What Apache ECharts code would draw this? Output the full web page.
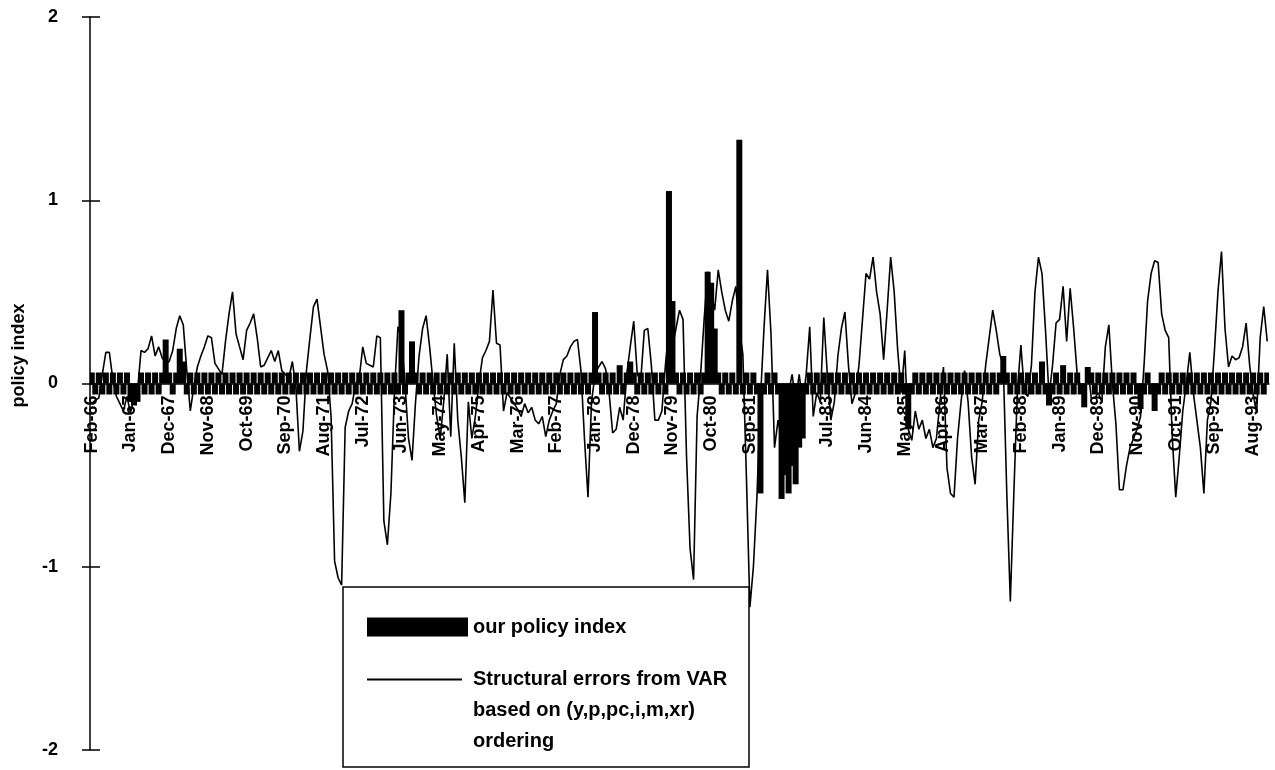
<!DOCTYPE html>
<html>
<head>
<meta charset="utf-8">
<script src="https://cdn.jsdelivr.net/npm/echarts@6/dist/echarts.min.js"></script>
<style>
html,body{margin:0;padding:0;background:#fff;}
#chart{width:1275px;height:770px;}
</style>
</head>
<body>
<div id="chart"></div>
<script>
// Monthly categories Feb-66 .. Dec-93 (335 months)
const monthNames = ['Jan','Feb','Mar','Apr','May','Jun','Jul','Aug','Sep','Oct','Nov','Dec'];
const startYear = 66, startMonth = 1, nMonths = 335;
const categories = [];
for (let k = 0; k < nMonths; k++) {
  const t = startMonth + k;
  categories.push(monthNames[t % 12] + '-' + (startYear + Math.floor(t / 12)));
}

// our policy index (bars)
const policyIndex = [
  .06,-.06,.06,-.06,.06,-.06,.06,-.06,.06,-.06,.06,-.1,
  -.12,-.1,.06,-.06,.06,-.06,.06,-.06,.06,.24,.06,-.06,
  .06,.19,.12,-.06,.06,-.06,.06,-.06,.06,-.06,.06,-.06,
  .06,-.06,.06,-.06,.06,-.06,.06,-.06,.06,-.06,.06,-.06,
  .06,-.06,.06,-.06,.06,-.06,.06,-.06,.06,-.06,.06,-.06,
  .06,-.06,.06,-.06,.06,-.06,.06,-.06,.06,-.06,.06,-.06,
  .06,-.06,.06,-.06,.06,-.06,.06,-.06,.06,-.06,.06,-.06,
  .06,-.06,.06,-.06,.40,-.06,.06,.23,.06,-.06,.06,-.06,
  .06,-.06,.06,-.06,.06,-.06,.06,-.06,.06,-.06,.06,-.06,
  .06,-.06,.06,-.06,.06,-.06,.06,-.06,.06,-.06,.06,-.06,
  .06,-.06,.06,-.06,.06,-.06,.06,-.06,.06,-.06,.06,-.06,
  .06,-.06,.06,-.06,.06,-.06,.06,-.06,.06,-.06,.06,.39,
  .06,-.06,.06,-.06,.06,-.06,.1,-.06,.06,.12,.06,-.06,
  .06,-.06,.06,-.06,.06,-.06,.06,-.06,1.05,.45,.06,-.06,
  .06,-.06,.06,-.06,.06,-.06,.06,.61,.55,.3,.06,-.06,
  .06,-.06,.06,-.06,1.33,-.06,.06,-.06,.06,-.06,-.6,-.06,
  .06,-.06,.06,-.06,-.63,-.5,-.6,-.45,-.55,-.35,-.3,-.06,
  .06,-.06,.06,-.06,.06,-.06,.06,-.06,.06,-.06,.06,-.06,
  .06,-.06,.06,-.06,.06,-.06,.06,-.06,.06,-.06,.06,-.06,
  .06,-.06,.06,-.06,-.25,-.06,.06,-.06,.06,-.06,.06,-.06,
  .06,-.06,.06,-.06,.06,-.06,.06,-.06,.06,-.06,.06,-.06,
  .06,-.06,.06,-.06,.06,-.06,.06,.15,.06,-.06,.06,-.06,
  .06,-.06,.06,-.06,.06,-.06,.12,-.06,-.12,-.06,.06,-.06,
  .1,-.06,.06,-.06,.06,-.06,-.13,.09,.06,-.06,.06,-.06,
  .06,-.06,.06,-.06,.06,-.06,.06,-.06,.06,-.06,-.14,-.06,
  .06,-.06,-.15,-.06,.06,-.06,.06,-.06,.06,-.06,.06,-.06,
  .06,-.06,.06,-.06,.06,-.06,.06,-.06,.06,-.06,.06,-.06,
  .06,-.06,.06,-.06,.06,-.06,.06,-.06,.06,-.06,.06
];

// Structural errors from VAR (line)
const structuralErrors = [
  -0.11,-0.09,-0.08,0.05,0.17,0.17,0.02,-0.07,-0.11,-0.15,-0.07,-0.16,
  -0.08,-0.04,0.18,0.17,0.19,0.26,0.15,0.2,0.14,0.11,0.12,0.18,
  0.3,0.37,0.32,0.07,-0.15,-0.02,0.09,0.15,0.2,0.26,0.25,0.11,
  0.08,0.05,0.23,0.38,0.5,0.27,0.2,0.13,0.29,0.33,0.38,0.25,
  0.09,0.1,0.14,0.18,0.12,0.18,0.07,0.05,0.03,0.12,-0.02,-0.37,
  -0.26,0.07,0.25,0.42,0.46,0.31,0.16,0.07,-0.18,-0.97,-1.06,-1.1,
  -0.24,-0.15,-0.11,0.0,0.03,0.2,0.11,0.1,0.09,0.26,0.25,-0.75,
  -0.88,-0.6,-0.05,0.31,0.25,0.0,-0.3,-0.42,-0.1,0.15,0.3,0.37,
  0.2,0.0,-0.18,-0.3,-0.1,0.16,-0.29,0.22,-0.2,-0.4,-0.65,-0.1,
  -0.3,-0.18,0.0,0.14,0.18,0.23,0.51,0.22,0.21,-0.15,-0.05,-0.08,
  -0.11,-0.14,-0.18,-0.11,-0.16,-0.13,-0.2,-0.22,-0.18,-0.29,-0.2,-0.15,
  -0.11,0.05,0.13,0.15,0.2,0.23,0.24,0.07,-0.3,-0.62,-0.1,0.05,
  0.09,0.12,0.08,-0.05,-0.27,-0.25,-0.13,-0.2,0.05,0.2,0.34,0.05,
  0.02,0.29,0.3,0.1,-0.2,-0.2,-0.15,0.1,0.3,0.2,0.3,0.4,
  0.35,-0.4,-0.9,-1.07,-0.18,0.05,0.35,0.61,0.5,0.4,0.62,0.5,
  0.4,0.34,0.45,0.53,0.3,0.16,-0.5,-1.22,-1.0,-0.62,-0.09,0.3,
  0.62,0.27,-0.35,-0.2,-0.3,-0.15,-0.05,0.05,-0.1,0.05,-0.1,0.05,
  0.31,-0.18,-0.05,-0.1,0.36,0.05,-0.2,-0.1,0.15,0.3,0.39,0.1,
  -0.11,-0.05,0.1,0.35,0.6,0.57,0.69,0.5,0.38,0.13,0.4,0.69,
  0.5,0.18,-0.05,0.18,-0.25,-0.31,-0.15,-0.25,-0.2,-0.3,-0.25,-0.35,
  -0.3,-0.1,0.09,-0.46,-0.6,-0.62,-0.3,-0.1,0.07,-0.1,-0.4,-0.55,
  -0.2,-0.1,0.1,0.25,0.4,0.29,0.16,0.1,-0.6,-1.19,-0.6,-0.04,
  0.21,-0.05,-0.07,0.1,0.5,0.69,0.6,0.29,-0.07,0.1,0.33,0.35,
  0.53,0.23,0.52,0.3,0.05,-0.02,-0.08,0.09,-0.08,-0.08,-0.05,-0.1,
  0.2,0.32,0.0,-0.22,-0.58,-0.58,-0.45,-0.35,-0.3,-0.25,-0.18,0.1,
  0.45,0.6,0.67,0.66,0.38,0.29,0.25,-0.29,-0.62,-0.4,-0.15,0.0,
  0.17,-0.05,-0.2,-0.35,-0.6,-0.2,-0.1,0.18,0.5,0.72,0.3,0.09,
  0.15,0.13,0.14,0.2,0.33,0.1,-0.06,-0.16,0.25,0.42,0.23
];

const yTicks = [-2, -1, 0, 1, 2];
const barName = 'our policy index';
const lineName = 'Structural errors from VAR based on (y,p,pc,i,m,xr) ordering';

const FONT = 'Liberation Sans, Arial, Helvetica, sans-serif';
const GRID_TOP = 17, GRID_BOTTOM = 20, H = 770;
const plotH = H - GRID_TOP - GRID_BOTTOM;
// shift the category axis from the plot bottom up to the zero level of the value axis
const zeroShift = -plotH * (0 - yTicks[0]) / (yTicks[yTicks.length - 1] - yTicks[0]);

const chart = echarts.init(document.getElementById('chart'), null, {renderer: 'canvas'});

chart.setOption({
  animation: false,
  backgroundColor: '#fff',
  grid: {left: 90, right: 6, top: GRID_TOP, bottom: GRID_BOTTOM, containLabel: false, outerBoundsMode: 'none'},
  xAxis: {
    type: 'category',
    data: categories,
    boundaryGap: true,
    position: 'bottom',
    offset: zeroShift,
    axisLine: {onZero: false, lineStyle: {color: '#000', width: 1.5}},
    axisTick: {show: false},
    axisLabel: {
      interval: 10,
      rotate: 90,
      margin: 12,
      color: '#000',
      fontFamily: FONT,
      fontWeight: 'bold',
      fontSize: 18
    },
    splitLine: {show: false}
  },
  yAxis: [{
    type: 'value',
    min: yTicks[0],
    max: yTicks[yTicks.length - 1],
    interval: 1,
    position: 'left',
    name: 'policy index',
    nameLocation: 'middle',
    nameGap: 62,
    nameRotate: 90,
    nameTextStyle: {color: '#000', fontFamily: FONT, fontWeight: 'bold', fontSize: 18, padding: [0, 0, 0, 56]},
    axisLine: {show: true, lineStyle: {color: '#000', width: 1.5}},
    axisTick: {show: true, length: 8, lineStyle: {color: '#000', width: 1.5}},
    axisLabel: {color: '#000', fontFamily: FONT, fontWeight: 'bold', fontSize: 18, margin: 32},
    splitLine: {show: false}
  }, {
    type: 'value',
    min: yTicks[0],
    max: yTicks[yTicks.length - 1],
    interval: 1,
    position: 'left',
    axisLine: {show: false},
    axisTick: {show: true, inside: true, length: 10, lineStyle: {color: '#000', width: 1.5}},
    axisLabel: {show: false},
    splitLine: {show: false}
  }],
  legend: [{
    data: [{name: barName, icon: 'rect'}],
    left: 362,
    top: 612,
    itemWidth: 101,
    itemHeight: 19,
    itemGap: 10,
    selectedMode: false,
    textStyle: {color: '#000', fontFamily: FONT, fontWeight: 'bold', fontSize: 20}
  }, {
    data: [{name: lineName, icon: 'rect'}],
    left: 362,
    top: 597,
    itemWidth: 95,
    itemHeight: 2,
    selectedMode: false,
    formatter: function () {
      return '\n\nStructural errors from VAR\nbased on (y,p,pc,i,m,xr)\nordering';
    },
    textStyle: {color: '#000', fontFamily: FONT, fontWeight: 'bold', fontSize: 20, lineHeight: 31, padding: [0, 0, 0, 6]}
  }],
  graphic: [{
    type: 'rect',
    z: 3,
    shape: {x: 343, y: 587, width: 406, height: 180},
    style: {fill: '#fff', stroke: '#000', lineWidth: 1.5}
  }],
  series: [{
    name: barName,
    type: 'bar',
    data: policyIndex,
    barWidth: 6,
    barGap: '-100%',
    itemStyle: {color: '#000'},
    z: 2
  }, {
    name: lineName,
    type: 'line',
    data: structuralErrors,
    symbol: 'none',
    showSymbol: false,
    lineStyle: {color: '#000', width: 1.6},
    itemStyle: {color: '#000'},
    z: 2
  }]
});
</script>
</body>
</html>
